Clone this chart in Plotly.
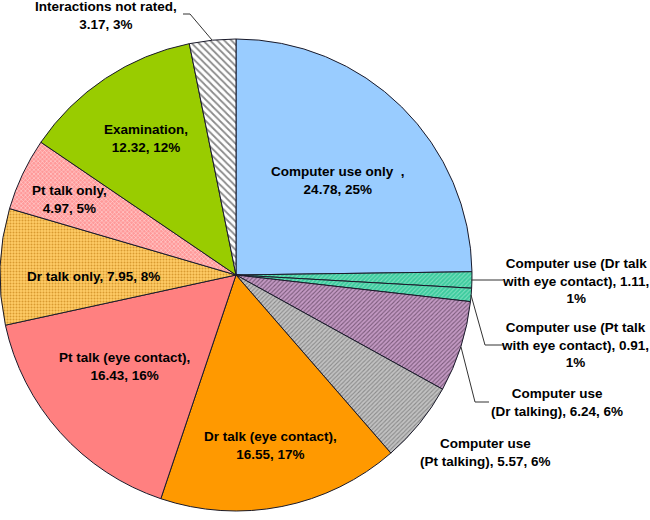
import plotly.graph_objects as go

# Share of consultation time by interaction type (clockwise from 12 o'clock)
categories = [
    "Computer use only", "Computer use (Dr talk with eye contact)",
    "Computer use (Pt talk with eye contact)", "Computer use (Dr talking)",
    "Computer use (Pt talking)", "Dr talk (eye contact)", "Pt talk (eye contact)",
    "Dr talk only", "Pt talk only", "Examination", "Interactions not rated",
]
values = [24.78, 1.11, 0.91, 6.24, 5.57, 16.55, 16.43, 7.95, 4.97, 12.32, 3.17]

# label wording as printed on the chart
label_fmt = [
    "Computer use only  ,<br>{v}, {p}%",
    "Computer use (Dr talk<br>with eye contact), {v},<br>{p}%",
    "Computer use (Pt talk<br>with eye contact), {v},<br>{p}%",
    "Computer use<br>(Dr talking), {v}, {p}%",
    "Computer use<br>(Pt talking), {v}, {p}%",
    "Dr talk (eye contact),<br>{v}, {p}%",
    "Pt talk (eye contact),<br>{v}, {p}%",
    "Dr talk only, {v}, {p}%",
    "Pt talk only,<br>{v}, {p}%",
    "Examination,<br>{v}, {p}%",
    "Interactions not rated,<br>{v}, {p}%",
]

colors = ["#99CCFF", "#3CCB9E", "#3CCB9E", "#C49AC4", "#C2C2C2", "#FF9900",
          "#FF8080", "#FFCC66", "#FF9999", "#99CC00", "#FFFFFF"]
shapes = ["", "/", "/", "/", "/", "", "", ".", "x", "", "\\"]
fg = ["#000", "#7FE0C0", "#7FE0C0", "#7A5A7A", "#8A8A8A", "#000",
      "#000", "#D99A30", "#FFD6D6", "#000", "#8A8A8A"]
pat_size = [4, 3, 3, 3, 3, 4, 4, 3, 3, 4, 5]

W, H = 650, 520
# label centres in pixels
label_pos = [(338, 180), (575, 281), (575, 345), (557, 402), (485, 452),
             (270, 445), (124, 366), (93, 276), (69, 199), (146, 139), (106, 15)]

fig = go.Figure(go.Pie(
    labels=categories, values=values, sort=False, direction="clockwise",
    textinfo="none", hoverinfo="label+value+percent",
    marker=dict(colors=colors, line=dict(color="#1a1a2a", width=1),
                pattern=dict(shape=shapes, fgcolor=fg, bgcolor=colors,
                             size=pat_size, solidity=0.35)),
    domain=dict(x=[0, 472 / W], y=[1 - 518 / H, 1 - 32 / H]),
    showlegend=False,
))

for fmt, v, (px_, py_) in zip(label_fmt, values, label_pos):
    fig.add_annotation(
        x=px_ / W, y=1 - py_ / H, xref="paper", yref="paper",
        text="<b>" + fmt.format(v=v, p=round(v)) + "</b>",
        showarrow=False, align="center", xanchor="center", yanchor="middle",
        font=dict(family="Liberation Sans, Arial", size=13.5, color="#000"),
    )

# leader lines (pixel polylines)
leaders = [
    [(183, 14), (190, 14), (212, 40)],
    [(471, 280), (503, 280)],
    [(471, 295), (485, 345), (503, 345)],
    [(461, 347), (475, 402), (489, 402)],
]
for pts in leaders:
    path = "M " + " L ".join(f"{x / W},{1 - y / H}" for x, y in pts)
    fig.add_shape(type="path", path=path, xref="paper", yref="paper",
                  line=dict(color="#333", width=1))

fig.update_layout(width=W, height=H, margin=dict(l=0, r=0, t=0, b=0),
                  paper_bgcolor="white", plot_bgcolor="white")
# drop the browser's default body margin so the figure sits at (0, 0)
fig.write_html("out.html", config={"displayModeBar": False},
               post_script="document.body.style.margin='0';")
